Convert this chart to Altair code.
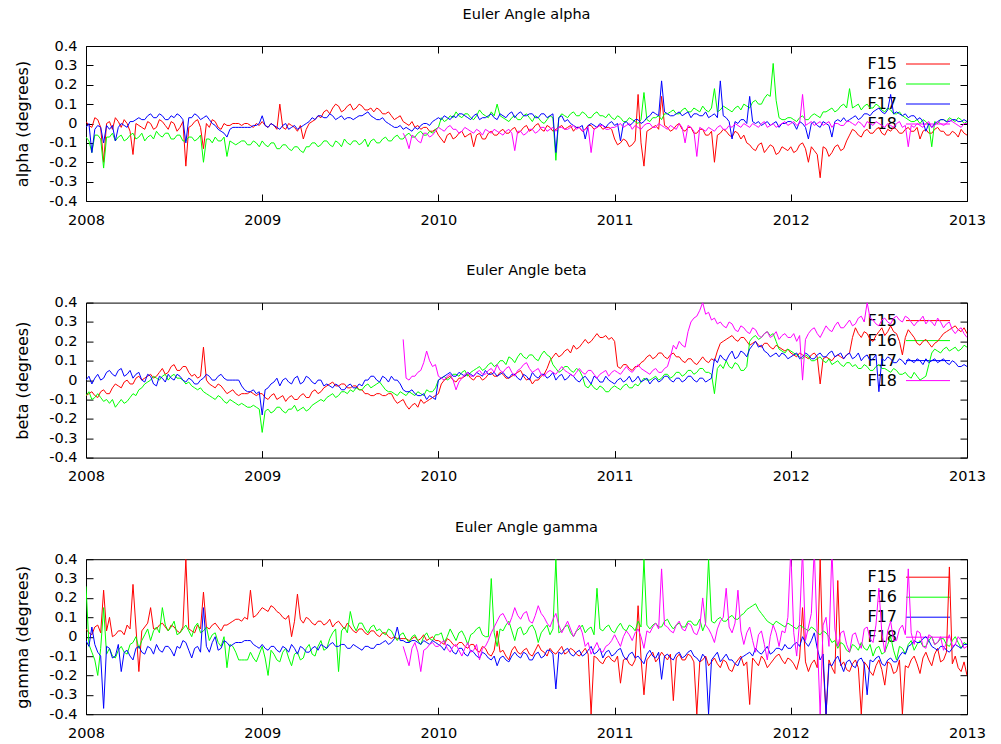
import altair as alt
import pandas as pd

# ---- sampling grid (values read every 1/60 year) ----
START_YEAR = 2008
STEP_YEARS = 1 / 60
F18_FIRST_INDEX = 108  # F18 data begins at 2009.8

series_names = ["F15", "F16", "F17", "F18"]
series_colors = ["#ff0000", "#00ff00", "#0000ff", "#ff00ff"]
year_ticks = [2008, 2009, 2010, 2011, 2012, 2013]
value_ticks = [-0.4, -0.3, -0.2, -0.1, 0.0, 0.1, 0.2, 0.3, 0.4]

# ---------------- alpha ----------------
alpha_F15 = [
    0.01, -0.01, -0.02, 0.03, 0.02, -0.02, -0.20, 0.00, 0.01, -0.03, 0.03, 0.01, -0.02, 0.02, 0.00, -0.04, -0.16, 0.00, -0.01, -0.02,
    -0.03, 0.01, 0.00, -0.03, -0.02, 0.02, 0.01, -0.01, -0.03, 0.01, 0.00, -0.04, -0.02, 0.01, -0.22, -0.02, -0.01, 0.01, 0.02, -0.02,
    -0.13, 0.00, -0.02, 0.02, 0.01, -0.02, -0.03, 0.00, -0.01, -0.01, 0.00, 0.00, 0.00, -0.01, 0.00, 0.00, -0.01, -0.02, 0.00, -0.01,
    0.01, -0.01, -0.02, 0.00, -0.01, -0.03, 0.10, -0.02, -0.03, 0.00, -0.01, -0.02, -0.04, -0.01, -0.08, -0.03, 0.00, 0.01, 0.02, 0.04,
    0.03, 0.06, 0.07, 0.05, 0.08, 0.10, 0.09, 0.06, 0.07, 0.09, 0.10, 0.07, 0.08, 0.10, 0.09, 0.07, 0.07, 0.08, 0.06, 0.08,
    0.07, 0.05, 0.05, 0.06, 0.04, 0.02, 0.03, 0.04, 0.01, 0.00, -0.01, 0.01, -0.02, -0.01, -0.03, -0.02, -0.02, -0.04, -0.04, -0.03,
    -0.06, -0.08, -0.10, -0.06, -0.05, -0.08, -0.07, -0.05, -0.04, -0.07, -0.06, -0.05, -0.12, -0.06, -0.05, -0.08, -0.08, -0.05, -0.04, -0.06,
    -0.06, -0.04, -0.03, -0.05, -0.05, -0.03, -0.02, -0.05, -0.04, -0.02, -0.01, -0.04, -0.03, -0.01, 0.00, -0.03, -0.04, -0.01, -0.02, -0.04,
    -0.03, -0.02, -0.01, -0.03, -0.02, -0.01, -0.04, -0.02, -0.02, -0.04, -0.03, -0.01, -0.01, -0.03, -0.02, -0.01, -0.03, -0.02, -0.02, -0.03,
    -0.08, -0.11, -0.10, -0.08, -0.09, -0.12, -0.11, -0.09, 0.15, -0.10, -0.22, -0.04, -0.03, -0.02, -0.01, -0.03, 0.14, -0.01, -0.02, -0.04,
    -0.03, -0.01, 0.00, -0.03, -0.04, -0.02, -0.02, -0.05, -0.05, -0.03, -0.03, -0.06, -0.06, -0.04, -0.20, -0.06, -0.05, -0.03, -0.04, -0.06,
    -0.07, -0.04, -0.05, -0.08, -0.06, -0.10, -0.11, -0.13, -0.14, -0.11, -0.10, -0.15, -0.13, -0.11, -0.12, -0.16, -0.15, -0.12, -0.13, -0.14,
    -0.12, -0.15, -0.14, -0.11, -0.10, -0.13, -0.20, -0.12, -0.14, -0.16, -0.28, -0.12, -0.13, -0.17, -0.15, -0.12, -0.11, -0.14, -0.13, -0.09,
    -0.06, -0.03, -0.04, -0.06, -0.07, -0.04, -0.03, -0.05, -0.05, -0.03, -0.02, -0.05, -0.06, -0.03, -0.04, -0.02, -0.03, -0.05, -0.05, -0.03,
    -0.02, -0.04, -0.04, -0.02, -0.08, -0.04, -0.03, -0.05, -0.05, -0.03, -0.02, -0.04, -0.04, -0.06, -0.06, -0.04, -0.05, -0.07, -0.03, -0.05,
    -0.06,
]
alpha_F16 = [
    -0.07, -0.09, -0.15, -0.06, -0.06, -0.08, -0.23, -0.07, -0.07, -0.05, -0.09, -0.07, -0.06, -0.09, -0.08, -0.06, -0.05, -0.08, -0.07, -0.05,
    -0.09, -0.07, -0.06, -0.08, -0.04, -0.06, -0.07, -0.05, -0.05, -0.08, -0.08, -0.06, -0.06, -0.09, -0.09, -0.07, -0.07, -0.09, -0.08, -0.06,
    -0.20, -0.08, -0.08, -0.10, -0.07, -0.09, -0.09, -0.07, -0.17, -0.09, -0.10, -0.11, -0.10, -0.09, -0.09, -0.11, -0.11, -0.09, -0.10, -0.12,
    -0.09, -0.11, -0.12, -0.10, -0.10, -0.13, -0.13, -0.11, -0.11, -0.13, -0.14, -0.12, -0.12, -0.14, -0.15, -0.12, -0.12, -0.10, -0.10, -0.12,
    -0.11, -0.09, -0.09, -0.11, -0.12, -0.09, -0.10, -0.12, -0.08, -0.10, -0.11, -0.09, -0.09, -0.11, -0.10, -0.08, -0.12, -0.09, -0.08, -0.10,
    -0.10, -0.08, -0.07, -0.09, -0.09, -0.07, -0.06, -0.08, -0.08, -0.06, -0.05, -0.07, -0.07, -0.05, -0.04, -0.06, -0.06, -0.04, -0.05, -0.03,
    -0.02, 0.03, 0.01, 0.02, 0.04, 0.03, 0.06, 0.04, 0.03, 0.05, 0.05, 0.03, 0.02, 0.04, 0.07, 0.05, 0.04, 0.03, 0.06, 0.04,
    0.10, 0.04, 0.03, 0.02, 0.01, 0.03, 0.04, 0.02, 0.02, 0.04, 0.05, 0.03, 0.01, 0.04, 0.03, 0.01, 0.00, 0.02, 0.04, 0.03,
    -0.19, 0.03, 0.05, 0.04, 0.03, 0.05, 0.06, 0.04, 0.04, 0.06, 0.05, 0.03, 0.03, 0.05, 0.06, 0.04, 0.04, 0.03, 0.05, 0.03,
    0.02, 0.04, 0.03, 0.01, 0.01, 0.03, 0.02, 0.01, 0.00, 0.02, 0.16, 0.02, 0.01, 0.03, 0.03, 0.04, 0.02, 0.05, 0.05, 0.06,
    0.07, 0.05, 0.05, 0.07, 0.08, 0.06, 0.06, 0.08, 0.07, 0.06, 0.09, 0.07, 0.06, 0.08, 0.18, 0.06, 0.07, 0.09, 0.08, 0.07,
    0.06, 0.08, 0.09, 0.07, 0.10, 0.09, 0.08, 0.11, 0.12, 0.10, 0.10, 0.13, 0.15, 0.14, 0.31, 0.12, 0.03, 0.02, 0.02, 0.03,
    0.03, 0.02, 0.01, 0.03, 0.04, 0.02, 0.02, 0.04, 0.05, 0.04, 0.03, 0.06, 0.06, 0.07, 0.08, 0.06, 0.07, 0.09, 0.10, 0.08,
    0.18, 0.08, 0.09, 0.10, 0.07, 0.09, 0.10, 0.08, 0.08, 0.10, 0.09, 0.07, 0.06, 0.08, 0.07, 0.05, 0.05, 0.06, 0.04, 0.03,
    0.02, 0.01, 0.01, 0.02, 0.00, 0.02, 0.01, -0.01, -0.12, 0.01, 0.00, 0.02, 0.02, 0.01, 0.03, 0.02, 0.01, 0.03, 0.02, 0.00,
    0.01,
]
alpha_F17 = [
    -0.02, 0.00, -0.15, -0.03, -0.01, -0.02, -0.10, -0.01, -0.03, -0.01, -0.09, -0.02, 0.00, -0.01, -0.02, 0.01, 0.01, 0.02, 0.03, 0.02,
    0.02, 0.04, 0.05, 0.03, 0.03, 0.05, 0.04, 0.02, 0.02, 0.04, 0.03, 0.05, 0.04, 0.02, -0.10, 0.03, 0.03, 0.05, 0.04, 0.02,
    0.03, 0.04, 0.02, 0.00, -0.01, -0.03, -0.04, -0.05, -0.07, -0.03, -0.02, -0.02, -0.02, -0.02, -0.02, -0.02, -0.02, -0.01, -0.01, 0.00,
    0.04, -0.01, -0.02, 0.00, -0.01, -0.02, -0.03, -0.01, 0.00, -0.03, -0.02, -0.01, -0.03, -0.02, -0.01, 0.00, 0.01, 0.03, 0.02, 0.04,
    0.04, 0.03, 0.03, 0.05, 0.04, 0.02, 0.03, 0.04, 0.02, 0.03, 0.03, 0.02, 0.03, 0.04, 0.04, 0.05, 0.06, 0.04, 0.03, 0.02,
    0.02, 0.03, 0.01, 0.00, -0.01, -0.02, -0.02, -0.01, -0.03, -0.02, -0.03, -0.04, -0.02, -0.03, -0.01, 0.00, 0.00, -0.01, 0.01, 0.02,
    0.03, 0.02, 0.04, 0.03, 0.02, 0.04, 0.03, 0.05, 0.05, 0.04, 0.03, 0.02, 0.04, 0.05, 0.02, 0.03, 0.03, 0.04, 0.05, 0.03,
    0.02, 0.05, 0.04, 0.03, 0.05, 0.06, 0.03, 0.05, 0.06, 0.04, 0.04, 0.05, 0.05, 0.03, 0.03, 0.05, 0.05, 0.03, 0.04, 0.05,
    -0.15, 0.03, 0.04, 0.01, 0.02, 0.00, -0.01, -0.02, -0.02, -0.01, -0.08, -0.01, 0.00, -0.01, -0.02, 0.00, -0.01, -0.02, 0.00, 0.01,
    -0.01, 0.00, -0.09, 0.00, 0.01, -0.01, 0.00, 0.02, 0.02, 0.00, 0.01, 0.03, 0.04, 0.06, 0.05, 0.04, 0.22, 0.06, 0.05, 0.04,
    0.04, 0.05, 0.06, 0.04, 0.05, 0.06, 0.03, 0.05, 0.05, 0.04, 0.04, 0.06, 0.03, 0.04, 0.05, 0.03, 0.22, 0.04, 0.03, 0.01,
    -0.08, 0.01, 0.00, 0.02, 0.02, 0.00, 0.14, 0.01, 0.00, 0.01, -0.01, 0.00, 0.01, -0.01, 0.00, 0.01, -0.02, 0.00, 0.00, 0.01,
    0.01, 0.00, -0.03, 0.01, 0.00, -0.02, -0.08, 0.00, 0.01, -0.01, -0.02, 0.01, 0.00, -0.01, -0.07, 0.01, 0.02, 0.01, 0.03, 0.01,
    0.02, 0.03, 0.04, 0.02, 0.03, 0.05, 0.05, 0.04, 0.06, 0.07, 0.08, 0.06, 0.05, 0.07, 0.15, 0.05, 0.06, 0.05, 0.04, 0.05,
    0.03, 0.04, 0.04, 0.02, 0.03, 0.01, -0.04, 0.00, -0.02, 0.00, 0.01, 0.02, 0.02, 0.01, 0.01, 0.02, 0.02, 0.01, 0.01, 0.02,
    0.01,
]
alpha_F18 = [
    -0.05, -0.08, -0.13, -0.06, -0.07, -0.09, -0.10, -0.05, -0.05, -0.07, -0.06, -0.04,
    -0.02, -0.03, -0.04, -0.02, -0.01, -0.03, -0.03, -0.05, -0.04, -0.02, -0.03, -0.04, -0.05, -0.03, -0.04, -0.06, -0.03, -0.04, -0.05, -0.03,
    -0.04, -0.05, -0.06, -0.04, -0.03, -0.05, -0.14, -0.04, -0.04, -0.06, -0.05, -0.03, -0.03, -0.05, -0.04, -0.02, -0.02, -0.04, -0.03, -0.02,
    -0.04, -0.02, -0.02, -0.03, -0.03, -0.02, -0.01, -0.03, -0.02, -0.04, -0.03, -0.02, -0.15, -0.03, -0.02, -0.01, -0.01, -0.03, -0.03, -0.02,
    -0.02, -0.01, 0.00, -0.02, -0.01, 0.00, -0.03, -0.01, -0.02, -0.03, -0.01, 0.00, 0.00, -0.02, -0.02, 0.00, -0.01, -0.02, -0.03, -0.01,
    -0.02, -0.03, 0.00, -0.02, -0.10, -0.01, -0.02, -0.04, -0.17, -0.02, -0.03, -0.04, -0.02, -0.03, -0.04, -0.02, -0.01, -0.03, -0.03, -0.01,
    -0.02, 0.00, -0.01, -0.02, 0.00, -0.01, -0.02, 0.00, -0.01, -0.02, 0.00, 0.01, -0.02, -0.01, 0.00, -0.02, -0.01, 0.00, 0.01, -0.01,
    0.00, 0.01, -0.01, 0.00, 0.15, -0.01, 0.00, 0.01, -0.01, 0.00, 0.01, -0.01, 0.00, 0.01, -0.02, 0.00, 0.00, -0.01, -0.01, 0.01,
    0.01, 0.00, -0.01, 0.01, 0.00, -0.02, 0.01, 0.00, -0.01, 0.01, 0.00, -0.01, -0.02, 0.00, -0.01, -0.02, 0.00, 0.01, -0.02, -0.01,
    -0.12, -0.01, -0.02, 0.00, -0.01, -0.02, 0.00, 0.01, -0.02, -0.01, 0.01, 0.00, -0.01, 0.00, 0.02, 0.01, 0.00, -0.01, -0.02, 0.00,
    0.00,
]

# ---------------- beta ----------------
beta_F15 = [
    -0.08, -0.07, -0.06, -0.08, -0.09, -0.06, -0.05, -0.07, -0.07, -0.04, -0.02, -0.03, -0.04, -0.01, 0.00, -0.02, -0.02, 0.01, 0.02, 0.00,
    0.01, 0.02, 0.03, 0.01, 0.02, 0.04, 0.06, 0.03, 0.04, 0.07, 0.08, 0.05, 0.05, 0.07, 0.07, 0.04, 0.02, 0.03, 0.01, 0.02,
    0.17, 0.00, -0.02, -0.03, -0.04, -0.02, -0.03, -0.05, -0.07, -0.06, -0.05, -0.07, -0.08, -0.07, -0.07, -0.07, -0.06, -0.07, -0.08, -0.07,
    -0.07, -0.09, -0.10, -0.08, -0.07, -0.10, -0.09, -0.08, -0.11, -0.09, -0.08, -0.10, -0.10, -0.08, -0.07, -0.09, -0.09, -0.06, -0.05, -0.07,
    -0.06, -0.04, -0.03, -0.02, -0.01, -0.03, -0.03, -0.02, -0.02, -0.04, -0.04, -0.03, -0.03, -0.05, -0.05, -0.07, -0.07, -0.08, -0.08, -0.07,
    -0.07, -0.08, -0.08, -0.07, -0.07, -0.10, -0.12, -0.11, -0.10, -0.13, -0.15, -0.13, -0.12, -0.14, -0.10, -0.12, -0.11, -0.10, -0.09, -0.08,
    -0.07, -0.02, 0.00, 0.01, 0.02, 0.00, -0.01, 0.01, 0.01, 0.02, 0.03, 0.01, 0.00, 0.02, 0.02, 0.00, 0.01, 0.03, 0.04, 0.02,
    0.02, 0.04, 0.03, 0.01, 0.01, 0.02, 0.03, 0.04, 0.05, 0.02, 0.00, 0.01, -0.02, 0.00, 0.00, 0.02, 0.03, 0.06, 0.10, 0.12,
    0.14, 0.12, 0.13, 0.15, 0.16, 0.14, 0.18, 0.16, 0.17, 0.19, 0.21, 0.19, 0.20, 0.22, 0.24, 0.22, 0.22, 0.23, 0.21, 0.22,
    0.20, 0.07, 0.06, 0.08, 0.08, 0.06, 0.05, 0.07, 0.07, 0.09, 0.10, 0.12, 0.13, 0.11, 0.12, 0.14, 0.14, 0.12, 0.11, 0.13,
    0.14, 0.12, 0.12, 0.10, 0.09, 0.11, 0.11, 0.09, 0.08, 0.10, 0.12, 0.10, 0.09, 0.11, 0.10, 0.15, 0.19, 0.20, 0.21, 0.22,
    0.23, 0.21, 0.20, 0.22, 0.22, 0.20, 0.18, 0.19, 0.20, 0.18, 0.17, 0.19, 0.19, 0.17, 0.16, 0.18, 0.17, 0.16, 0.15, 0.16,
    0.14, 0.13, 0.12, 0.14, 0.13, 0.12, 0.11, 0.13, 0.14, 0.12, -0.02, 0.11, 0.12, 0.11, 0.10, 0.12, 0.13, 0.12, 0.11, 0.13,
    0.14, 0.22, 0.27, 0.24, 0.22, 0.25, 0.24, 0.21, 0.20, 0.23, 0.25, 0.27, 0.23, 0.25, 0.28, 0.25, 0.24, 0.20, 0.13, 0.22,
    0.26, 0.24, 0.22, 0.19, 0.18, 0.20, 0.21, 0.19, 0.17, 0.19, 0.20, 0.22, 0.24, 0.25, 0.26, 0.27, 0.28, 0.26, 0.25, 0.27,
    0.24,
]
beta_F16 = [
    -0.08, -0.06, -0.10, -0.09, -0.07, -0.09, -0.11, -0.10, -0.12, -0.10, -0.14, -0.12, -0.10, -0.12, -0.11, -0.09, -0.07, -0.08, -0.05, -0.04,
    -0.02, -0.01, 0.00, 0.02, 0.01, 0.00, 0.02, 0.03, 0.00, 0.02, 0.03, 0.01, 0.01, 0.00, -0.02, -0.01, -0.03, -0.04, -0.05, -0.04,
    -0.06, -0.07, -0.08, -0.09, -0.10, -0.08, -0.09, -0.11, -0.12, -0.10, -0.11, -0.12, -0.13, -0.12, -0.13, -0.14, -0.14, -0.13, -0.14, -0.15,
    -0.27, -0.16, -0.15, -0.17, -0.16, -0.14, -0.14, -0.16, -0.17, -0.15, -0.15, -0.13, -0.16, -0.15, -0.14, -0.16, -0.15, -0.13, -0.12, -0.11,
    -0.10, -0.11, -0.09, -0.08, -0.07, -0.09, -0.08, -0.06, -0.06, -0.07, -0.05, -0.06, -0.04, -0.05, -0.05, -0.03, -0.02, -0.04, -0.03, -0.02,
    -0.01, -0.03, -0.05, -0.06, -0.06, -0.07, -0.08, -0.06, -0.07, -0.08, -0.06, -0.07, -0.08, -0.06, -0.07, -0.08, -0.05, -0.06, -0.06, -0.04,
    0.00, 0.01, 0.02, 0.00, 0.01, 0.03, 0.03, 0.02, 0.04, 0.05, 0.02, 0.04, 0.05, 0.06, 0.07, 0.05, 0.06, 0.08, 0.09, 0.07,
    0.08, 0.10, 0.10, 0.08, 0.12, 0.11, 0.09, 0.12, 0.14, 0.12, 0.11, 0.13, 0.13, 0.11, 0.10, 0.13, 0.15, 0.13, 0.12, 0.08,
    0.06, 0.04, 0.05, 0.07, 0.07, 0.05, 0.04, 0.06, 0.05, 0.02, -0.03, -0.04, -0.02, -0.04, -0.05, -0.03, -0.04, -0.06, -0.06, -0.04,
    -0.03, -0.04, -0.05, -0.03, -0.02, -0.04, -0.04, -0.02, -0.03, -0.01, 0.01, 0.00, 0.00, 0.01, 0.02, 0.00, 0.01, 0.03, 0.03, 0.01,
    0.02, 0.04, 0.04, 0.02, 0.03, 0.05, 0.05, 0.03, 0.04, 0.06, 0.06, 0.04, 0.04, 0.03, -0.07, 0.06, 0.08, 0.06, 0.10, 0.07,
    0.06, 0.09, 0.08, 0.05, 0.05, 0.07, 0.20, 0.22, 0.23, 0.21, 0.22, 0.24, 0.25, 0.23, 0.24, 0.20, 0.16, 0.15, 0.14, 0.16,
    0.15, 0.14, 0.13, 0.12, 0.11, 0.13, 0.12, 0.10, 0.10, 0.11, 0.12, 0.10, 0.09, 0.11, 0.08, 0.09, 0.10, 0.08, 0.07, 0.09,
    0.09, 0.07, 0.08, 0.06, 0.06, 0.08, 0.07, 0.05, 0.05, 0.07, 0.08, 0.06, 0.06, 0.05, 0.04, 0.06, 0.05, 0.03, 0.03, 0.04,
    0.02, 0.01, 0.04, 0.02, 0.00, 0.01, 0.02, 0.08, 0.14, 0.16, 0.15, 0.14, 0.16, 0.17, 0.15, 0.16, 0.17, 0.15, 0.16, 0.18,
    0.17,
]
beta_F17 = [
    0.00, 0.02, -0.02, 0.01, 0.03, 0.00, 0.01, 0.04, 0.05, 0.03, 0.02, 0.05, 0.06, 0.02, 0.03, 0.05, 0.01, 0.03, 0.04, 0.00,
    -0.01, 0.03, 0.02, -0.02, -0.03, 0.02, 0.01, -0.01, 0.03, 0.01, 0.00, 0.03, 0.02, 0.00, -0.01, 0.01, 0.00, -0.02, -0.02, 0.00,
    0.01, 0.03, 0.02, 0.00, 0.00, 0.02, 0.03, 0.01, 0.00, 0.00, 0.00, 0.00, 0.00, -0.03, -0.05, -0.06, -0.06, -0.05, -0.07, -0.06,
    -0.18, -0.05, -0.04, -0.02, -0.01, 0.01, -0.03, 0.00, 0.01, -0.01, -0.02, 0.01, 0.02, -0.02, -0.01, 0.02, 0.01, -0.01, -0.02, 0.00,
    0.00, -0.03, -0.02, -0.03, -0.04, -0.02, -0.03, -0.05, -0.05, -0.03, -0.02, -0.04, -0.04, -0.02, -0.03, 0.00, 0.00, 0.02, 0.02, 0.00,
    -0.01, 0.02, 0.01, -0.01, 0.02, 0.00, 0.00, -0.02, -0.05, -0.06, -0.06, -0.05, -0.07, -0.08, -0.08, -0.07, -0.10, -0.08, -0.09, -0.10,
    0.00, 0.01, 0.02, 0.03, 0.04, 0.02, 0.02, 0.04, 0.03, 0.02, 0.04, 0.03, 0.02, 0.04, 0.03, 0.02, 0.05, 0.03, 0.03, 0.04,
    0.02, 0.03, 0.04, 0.02, 0.01, 0.03, 0.03, 0.01, 0.00, 0.03, 0.02, 0.00, 0.04, 0.02, 0.01, 0.03, 0.03, 0.01, 0.02, 0.04,
    0.00, 0.02, 0.03, 0.00, 0.01, 0.03, 0.02, 0.00, -0.01, 0.01, 0.02, 0.00, -0.02, 0.02, 0.01, -0.01, -0.01, 0.02, 0.00, -0.01,
    -0.02, 0.00, 0.01, -0.01, 0.00, 0.02, -0.01, 0.00, 0.02, -0.01, 0.00, 0.01, -0.02, 0.00, 0.01, -0.01, 0.00, 0.02, 0.02, 0.00,
    -0.01, 0.01, 0.01, -0.01, 0.00, 0.02, 0.02, 0.00, -0.01, 0.01, 0.01, -0.01, 0.00, 0.01, 0.11, 0.09, 0.13, 0.11, 0.10, 0.13,
    0.15, 0.11, 0.12, 0.15, 0.14, 0.12, 0.16, 0.18, 0.20, 0.17, 0.18, 0.15, 0.14, 0.12, 0.13, 0.14, 0.12, 0.14, 0.13, 0.11,
    0.12, 0.13, 0.14, 0.11, 0.12, 0.14, 0.13, 0.11, 0.11, 0.13, 0.14, 0.12, 0.12, 0.14, 0.15, 0.12, 0.13, 0.14, 0.11, 0.13,
    0.14, 0.11, 0.12, 0.14, 0.10, 0.12, 0.13, 0.10, 0.11, 0.13, -0.06, 0.11, 0.10, 0.12, 0.11, 0.09, 0.09, 0.11, 0.10, 0.08,
    0.11, 0.10, 0.09, 0.11, 0.10, 0.08, 0.11, 0.09, 0.10, 0.11, 0.09, 0.10, 0.11, 0.09, 0.08, 0.10, 0.09, 0.07, 0.07, 0.08,
    0.07,
]
beta_F18 = [
    0.21, 0.01, 0.00, 0.02, 0.02, 0.04, 0.05, 0.09, 0.15, 0.10, 0.07, 0.08,
    0.02, 0.01, 0.00, 0.02, 0.03, 0.00, -0.05, -0.01, 0.01, 0.03, 0.04, 0.02, 0.02, 0.04, 0.05, 0.03, 0.03, 0.05, 0.06, 0.04,
    0.08, 0.05, 0.04, 0.06, 0.07, 0.04, 0.02, 0.05, 0.06, 0.08, 0.09, 0.06, 0.04, 0.05, 0.06, 0.03, 0.02, 0.04, 0.05, 0.04,
    0.03, 0.05, 0.07, 0.05, 0.04, 0.03, 0.02, 0.04, 0.06, 0.04, 0.03, 0.05, 0.05, 0.03, 0.01, 0.03, 0.04, 0.05, 0.02, 0.04,
    0.05, 0.04, 0.03, 0.05, 0.07, 0.05, 0.04, 0.06, 0.08, 0.06, 0.05, 0.04, 0.03, 0.05, 0.06, 0.04, 0.04, 0.06, 0.07, 0.12,
    0.18, 0.16, 0.20, 0.18, 0.17, 0.25, 0.30, 0.32, 0.33, 0.36, 0.40, 0.34, 0.35, 0.31, 0.32, 0.29, 0.30, 0.28, 0.27, 0.30,
    0.29, 0.26, 0.25, 0.28, 0.27, 0.25, 0.24, 0.27, 0.26, 0.23, 0.22, 0.24, 0.25, 0.22, 0.23, 0.25, 0.21, 0.23, 0.24, 0.22,
    0.22, 0.24, 0.20, 0.23, 0.00, 0.21, 0.24, 0.26, 0.27, 0.24, 0.22, 0.25, 0.28, 0.26, 0.25, 0.28, 0.30, 0.27, 0.27, 0.29,
    0.31, 0.28, 0.29, 0.32, 0.33, 0.30, 0.40, 0.32, 0.31, 0.29, 0.28, 0.31, 0.32, 0.30, 0.29, 0.32, 0.33, 0.31, 0.30, 0.33,
    0.32, 0.30, 0.28, 0.30, 0.31, 0.33, 0.29, 0.31, 0.30, 0.28, 0.32, 0.30, 0.27, 0.29, 0.30, 0.26, 0.24, 0.26, 0.27, 0.24,
    0.22,
]

# ---------------- gamma ----------------
gamma_F15 = [
    0.04, 0.02, 0.01, 0.05, 0.06, 0.02, 0.24, 0.03, 0.10, 0.00, 0.01, 0.03, 0.03, 0.01, 0.06, 0.04, 0.27, 0.05, -0.18, 0.03,
    0.05, 0.07, 0.15, 0.04, 0.04, 0.06, 0.07, 0.05, 0.03, 0.06, 0.05, 0.03, 0.02, 0.05, 0.40, 0.04, 0.03, 0.02, 0.06, 0.04,
    0.23, 0.05, 0.04, 0.06, 0.07, 0.05, 0.03, 0.06, 0.06, 0.07, 0.08, 0.09, 0.09, 0.08, 0.10, 0.09, 0.24, 0.10, 0.11, 0.13,
    0.15, 0.14, 0.13, 0.16, 0.15, 0.13, 0.12, 0.10, 0.09, 0.11, 0.00, 0.08, 0.22, 0.09, 0.07, 0.10, 0.09, 0.07, 0.06, 0.08,
    0.08, 0.06, 0.07, 0.09, 0.05, 0.07, 0.08, 0.06, 0.04, 0.07, 0.05, 0.03, 0.02, 0.04, 0.04, 0.02, 0.01, 0.03, 0.03, 0.01,
    0.00, 0.02, 0.02, 0.00, -0.01, 0.00, -0.01, -0.01, -0.01, -0.01, -0.02, -0.01, 0.00, -0.02, -0.01, 0.01, -0.02, -0.01, 0.00, -0.02,
    -0.02, -0.03, -0.04, -0.01, -0.02, -0.04, -0.05, -0.03, -0.03, -0.05, -0.06, -0.04, -0.04, -0.07, -0.08, -0.05, -0.06, -0.09, -0.10, -0.07,
    0.03, -0.08, -0.07, -0.10, -0.12, -0.07, -0.05, -0.08, -0.09, -0.07, -0.06, -0.09, -0.10, -0.07, -0.04, -0.07, -0.08, -0.10, -0.06, -0.08,
    -0.09, -0.07, -0.05, -0.09, -0.08, -0.06, -0.07, -0.09, -0.10, -0.08, -0.06, -0.09, -0.40, -0.10, -0.11, -0.13, -0.14, -0.11, -0.10, -0.12,
    -0.13, -0.10, -0.24, -0.12, -0.11, -0.14, -0.15, -0.12, 0.16, -0.11, -0.30, -0.12, -0.10, -0.08, -0.13, -0.11, -0.08, -0.10, -0.12, -0.09,
    -0.33, -0.11, -0.09, -0.12, -0.12, -0.09, -0.10, -0.13, -0.40, -0.13, -0.12, -0.10, -0.15, -0.13, -0.11, -0.14, -0.16, -0.12, -0.13, -0.17,
    -0.18, -0.14, -0.12, -0.10, -0.15, -0.13, -0.35, -0.11, -0.13, -0.15, -0.10, -0.12, -0.16, -0.14, -0.12, -0.10, -0.09, -0.12, -0.14, -0.11,
    -0.12, -0.14, -0.17, -0.11, 0.15, -0.13, -0.18, -0.14, -0.12, -0.16, 0.40, -0.14, -0.40, -0.12, -0.16, -0.19, 0.29, -0.15, -0.13, -0.17,
    -0.18, -0.14, -0.12, -0.16, -0.40, -0.13, -0.15, -0.18, -0.20, -0.15, -0.12, -0.17, -0.25, -0.13, -0.14, -0.19, -0.18, -0.12, -0.40, -0.15,
    -0.16, -0.12, -0.10, -0.14, -0.19, -0.11, -0.08, -0.12, -0.15, -0.09, -0.06, -0.13, -0.12, -0.08, 0.36, -0.14, -0.10, -0.16, -0.18, -0.13,
    -0.20,
]
gamma_F16 = [
    0.26, -0.04, -0.08, -0.12, -0.20, -0.06, 0.15, -0.09, -0.06, -0.10, -0.11, -0.07, -0.05, -0.08, -0.09, -0.04, -0.03, 0.00, -0.06, -0.02,
    0.01, 0.04, -0.02, 0.03, 0.05, 0.02, 0.15, 0.06, 0.03, 0.05, 0.08, 0.01, 0.02, 0.04, 0.06, 0.03, 0.00, 0.05, 0.07, 0.02,
    0.03, 0.05, -0.02, 0.01, 0.02, -0.03, -0.05, 0.00, -0.16, -0.04, -0.05, -0.08, -0.12, -0.12, -0.12, -0.12, -0.08, -0.11, -0.13, -0.09,
    -0.05, -0.11, -0.20, -0.07, -0.09, -0.12, -0.13, -0.08, -0.06, -0.11, -0.15, -0.09, -0.08, -0.12, -0.11, -0.06, -0.04, -0.09, -0.10, -0.05,
    -0.02, -0.07, -0.06, -0.01, 0.02, 0.04, -0.18, 0.03, 0.05, 0.02, 0.13, 0.06, 0.03, 0.07, 0.07, 0.04, 0.02, 0.05, 0.06, 0.03,
    0.04, 0.02, 0.01, 0.04, 0.03, 0.00, -0.02, 0.01, 0.02, -0.01, -0.03, 0.00, 0.01, -0.02, -0.04, 0.00, 0.02, -0.01, -0.02, 0.01,
    0.01, 0.02, -0.03, 0.00, 0.04, 0.01, -0.02, 0.02, 0.03, 0.00, -0.04, 0.01, 0.02, 0.04, 0.05, 0.01, 0.00, 0.00, 0.30, 0.02,
    -0.05, 0.04, 0.03, 0.06, 0.08, 0.03, -0.02, 0.04, 0.05, 0.01, 0.02, 0.05, 0.06, 0.03, -0.03, 0.02, 0.04, 0.06, 0.01, 0.04,
    0.40, 0.02, 0.03, 0.05, 0.06, 0.02, 0.00, 0.03, 0.04, 0.06, 0.02, 0.04, 0.05, 0.01, 0.25, 0.04, 0.03, 0.05, 0.06, 0.03,
    0.02, 0.05, 0.07, 0.04, 0.03, 0.06, 0.05, 0.03, 0.08, 0.05, 0.40, 0.06, 0.04, 0.06, 0.07, 0.05, 0.05, 0.08, 0.09, 0.06,
    0.04, 0.06, 0.07, 0.05, 0.05, 0.08, 0.08, 0.06, 0.06, 0.09, 0.03, 0.07, 0.40, 0.08, 0.07, 0.09, 0.10, 0.08, 0.08, 0.10,
    0.11, 0.09, 0.09, 0.11, 0.12, 0.14, 0.15, 0.16, 0.17, 0.14, 0.12, 0.10, 0.08, 0.07, 0.06, 0.08, 0.07, 0.06, 0.05, 0.07,
    0.06, 0.05, 0.04, 0.06, 0.05, 0.04, 0.03, 0.05, 0.04, 0.02, 0.01, 0.03, 0.02, 0.00, -0.03, -0.02, -0.06, -0.03, -0.04, -0.07,
    -0.08, -0.04, -0.05, -0.07, -0.03, -0.06, -0.07, -0.04, -0.10, -0.06, -0.05, -0.09, -0.08, -0.04, 0.00, -0.07, -0.12, -0.05, -0.06, -0.09,
    -0.04, -0.02, -0.07, -0.04, -0.02, -0.05, -0.05, -0.02, 0.00, -0.04, -0.03, -0.01, -0.01, -0.04, -0.05, -0.02, 0.00, -0.03, -0.06, -0.03,
    -0.04,
]
gamma_F17 = [
    -0.02, -0.05, 0.05, -0.04, -0.08, -0.10, -0.37, -0.05, -0.06, -0.11, -0.10, -0.04, -0.18, -0.08, -0.07, -0.10, -0.12, -0.06, -0.05, -0.08,
    -0.09, -0.05, -0.06, -0.09, -0.04, -0.07, -0.08, -0.05, -0.05, -0.07, -0.10, -0.05, -0.06, -0.02, -0.03, -0.07, -0.11, -0.06, -0.05, -0.08,
    0.15, -0.05, -0.08, -0.03, 0.00, -0.07, -0.06, -0.02, -0.03, -0.05, -0.04, -0.03, -0.03, -0.03, -0.02, -0.02, -0.02, -0.04, -0.05, -0.06,
    -0.04, -0.06, -0.07, -0.05, -0.05, -0.07, -0.08, -0.05, -0.06, -0.08, -0.04, -0.06, -0.09, -0.05, -0.06, -0.08, -0.08, -0.06, -0.05, -0.07,
    -0.04, -0.05, -0.06, -0.04, -0.03, -0.05, -0.05, -0.04, -0.04, -0.06, -0.06, -0.04, -0.05, -0.06, -0.07, -0.05, -0.05, -0.06, -0.06, -0.04,
    -0.04, -0.03, -0.02, -0.04, -0.03, -0.01, 0.05, -0.02, -0.02, -0.03, -0.03, -0.02, -0.02, -0.03, -0.04, -0.02, -0.03, -0.04, -0.02, -0.03,
    -0.04, -0.05, -0.07, -0.04, -0.05, -0.08, -0.09, -0.06, -0.06, -0.09, -0.10, -0.07, -0.08, -0.10, -0.11, -0.08, -0.09, -0.11, -0.12, -0.10,
    -0.15, -0.11, -0.10, -0.12, -0.13, -0.10, -0.08, -0.10, -0.11, -0.08, -0.09, -0.12, -0.12, -0.09, -0.08, -0.11, -0.10, -0.07, -0.07, -0.09,
    -0.27, -0.08, -0.09, -0.07, -0.06, -0.09, -0.10, -0.08, -0.07, -0.10, -0.09, -0.07, -0.05, -0.09, -0.08, -0.06, -0.11, -0.08, -0.07, -0.10,
    -0.09, -0.07, -0.06, -0.10, -0.12, -0.09, -0.08, -0.11, -0.10, -0.12, -0.14, -0.09, -0.07, -0.10, -0.11, -0.08, -0.22, -0.10, -0.09, -0.11,
    -0.12, -0.09, -0.08, -0.11, -0.10, -0.08, -0.07, -0.10, -0.11, -0.13, -0.09, -0.11, -0.40, -0.12, -0.10, -0.08, -0.13, -0.11, -0.09, -0.12,
    -0.12, -0.14, -0.15, -0.11, -0.10, -0.09, -0.08, -0.10, -0.06, -0.08, -0.09, -0.07, -0.05, -0.09, -0.08, -0.06, -0.06, -0.07, -0.04, -0.06,
    -0.06, -0.04, -0.03, -0.05, 0.00, -0.03, -0.05, -0.02, 0.02, -0.06, -0.12, -0.09, -0.40, -0.14, -0.15, -0.12, -0.10, -0.14, -0.18, -0.13,
    -0.12, -0.15, -0.16, -0.12, -0.11, -0.14, -0.30, -0.12, -0.13, -0.11, -0.10, -0.14, -0.15, -0.12, -0.11, -0.13, -0.13, -0.10, -0.08, -0.09,
    -0.05, -0.04, -0.02, -0.03, -0.03, -0.01, 0.00, -0.02, -0.05, -0.06, -0.07, -0.05, -0.05, -0.07, -0.08, -0.06, -0.04, -0.05, -0.06, -0.04,
    -0.04,
]
gamma_F18 = [
    -0.05, -0.10, -0.15, -0.06, -0.03, -0.08, -0.18, -0.07, -0.06, -0.04, -0.03, -0.05,
    -0.05, -0.03, -0.02, -0.06, -0.08, -0.05, -0.04, -0.07, -0.10, -0.06, -0.03, -0.08, -0.07, -0.04, -0.12, -0.06, -0.05, -0.02, 0.02, 0.05,
    0.08, 0.11, 0.12, 0.09, 0.06, 0.10, 0.15, 0.11, 0.09, 0.12, 0.13, 0.08, 0.07, 0.11, 0.16, 0.12, 0.10, 0.07, 0.05, 0.09,
    0.12, 0.06, 0.02, 0.05, 0.08, 0.04, 0.00, 0.03, 0.06, 0.02, -0.05, -0.03, -0.09, -0.06, -0.03, -0.07, -0.08, -0.05, -0.04, -0.02,
    0.01, -0.02, -0.05, 0.00, 0.03, 0.01, -0.02, 0.02, 0.04, 0.00, -0.06, 0.03, 0.02, 0.05, 0.07, 0.04, 0.35, 0.06, 0.05, 0.03,
    0.02, 0.06, 0.08, 0.04, 0.03, 0.07, 0.06, 0.02, 0.01, 0.05, 0.20, 0.06, 0.04, 0.01, -0.03, 0.04, 0.08, 0.10, 0.25, 0.05,
    0.02, 0.07, 0.24, 0.03, -0.04, 0.02, 0.05, -0.02, -0.08, 0.01, 0.03, -0.04, -0.12, 0.00, 0.06, 0.02, -0.05, 0.03, 0.02, 0.10,
    0.45, 0.02, -0.10, 0.08, 0.45, -0.02, 0.05, 0.12, 0.45, 0.00, -0.40, 0.06, 0.10, -0.05, 0.45, 0.04, -0.05, 0.02, 0.03, -0.04,
    -0.08, 0.01, 0.02, -0.03, -0.06, 0.04, 0.05, -0.01, -0.03, 0.06, 0.25, 0.02, -0.08, 0.03, 0.08, -0.02, -0.02, 0.04, 0.06, 0.01,
    0.35, 0.02, -0.04, 0.03, 0.02, -0.05, -0.06, 0.01, 0.00, -0.04, -0.03, 0.00, -0.07, -0.03, 0.01, -0.05, -0.04, 0.00, -0.02, -0.06,
    -0.05,
]

FONT = "DejaVu Sans"
W, H = 881, 155


def make_frame(series_lists):
    rows = []
    for name, vals in zip(series_names, series_lists):
        first = F18_FIRST_INDEX if name == "F18" else 0
        for k, v in enumerate(vals):
            rows.append({"year": START_YEAR + (first + k) * STEP_YEARS,
                         "value": v, "series": name})
    return pd.DataFrame(rows)


legend_df = pd.DataFrame({"series": series_names})
frame_df = pd.DataFrame({"year": [2008.0], "value": [0.0]})

y_label_expr = ("datum.value == 0 ? '0' : (datum.value < 0 ? '-' : '') "
                "+ format(abs(datum.value), '.1f')")


def panel(title, ylabel, series_lists):
    df = make_frame(series_lists)
    color = alt.Color("series:N",
                      scale=alt.Scale(domain=series_names, range=series_colors),
                      legend=None)
    xscale = alt.Scale(domain=[2008, 2013], nice=False, zero=False)
    yscale = alt.Scale(domain=[-0.4, 0.4], nice=False, zero=False)

    lines = alt.Chart(df).mark_line(strokeWidth=1, clip=True).encode(
        x=alt.X("year:Q", scale=xscale,
                axis=alt.Axis(orient="bottom", values=year_ticks, format="d",
                              offset=-7, tickSize=7, labelPadding=12,
                              labelFlush=False, domain=False, grid=False,
                              title=None)),
        y=alt.Y("value:Q", scale=yscale,
                axis=alt.Axis(orient="left", values=value_ticks,
                              labelExpr=y_label_expr, offset=-7, tickSize=7,
                              labelPadding=9, domain=False, grid=False,
                              title=ylabel, titlePadding=18,
                              titleFontSize=16)),
        color=color,
    )

    leg_y = alt.Y("series:N",
                  scale=alt.Scale(type="point", domain=series_names,
                                  range=[18, 78], padding=0),
                  axis=None)
    legend_text = alt.Chart(legend_df).mark_text(
        align="right", baseline="middle", fontSize=16, font=FONT, color="black"
    ).encode(x=alt.value(811), y=leg_y, text="series:N")
    legend_rule = alt.Chart(legend_df).mark_rule(strokeWidth=1).encode(
        x=alt.value(820), x2=alt.value(864), y=leg_y, color=color)

    frame_axes = alt.Chart(frame_df).mark_point(opacity=0).encode(
        x=alt.X("year:Q", scale=xscale,
                axis=alt.Axis(orient="top", values=year_ticks, labels=False,
                              offset=-7, tickSize=7, domain=False, grid=False,
                              title=None)),
        y=alt.Y("value:Q", scale=yscale,
                axis=alt.Axis(orient="right", values=value_ticks, labels=False,
                              offset=-7, tickSize=7, domain=False, grid=False,
                              title=None)),
    )

    return alt.layer(legend_text, legend_rule, lines, frame_axes).resolve_scale(
        y="independent"
    ).resolve_axis(x="independent", y="independent").properties(
        width=W, height=H,
        title=alt.TitleParams(title, anchor="middle", fontSize=14.5,
                              fontWeight="normal", font=FONT, color="black",
                              offset=16),
    )


p1 = panel("Euler Angle alpha", "alpha (degrees)",
           [alpha_F15, alpha_F16, alpha_F17, alpha_F18])
p2 = panel("Euler Angle beta", "beta (degrees)",
           [beta_F15, beta_F16, beta_F17, beta_F18])
p3 = panel("Euler Angle gamma", "gamma (degrees)",
           [gamma_F15, gamma_F16, gamma_F17, gamma_F18])

chart = alt.vconcat(p1, p2, p3, spacing=101.6, bounds="flush").properties(
    padding={"left": 14, "top": 6, "right": 10, "bottom": 5},
    background="white",
).configure(font=FONT).configure_view(
    stroke="black", strokeWidth=1
).configure_axis(
    labelFont=FONT, labelFontSize=14.5, labelColor="black",
    tickColor="black", tickWidth=1,
    titleFont=FONT, titleFontSize=14.5, titleFontWeight="normal",
    titleColor="black",
)

chart.save("out.html", embed_options={"renderer": "svg", "actions": False})
